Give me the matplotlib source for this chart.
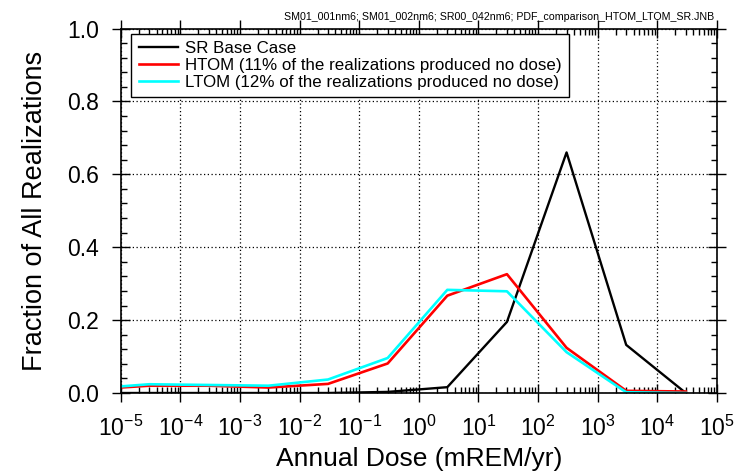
import numpy as np
import matplotlib
matplotlib.use('Agg')
from matplotlib import pyplot as plt
from matplotlib.ticker import MultipleLocator, LogLocator, NullFormatter

plt.rcParams['font.family'] = ['Liberation Sans', 'DejaVu Sans']
plt.rcParams['mathtext.fontset'] = 'custom'
plt.rcParams['mathtext.rm'] = 'Liberation Sans'
plt.rcParams['mathtext.it'] = 'Liberation Sans'

# dose bins (mREM/yr)
dose = [1e-5, 3e-5, 3e-4, 3e-3, 3e-2, 3e-1, 3, 30, 300, 3000, 30000]
sr_base = [0.0, 0.0, 0.0, 0.0, 0.0, 0.003, 0.016, 0.195, 0.660, 0.132, 0.0]
htom = [0.015, 0.020, 0.020, 0.015, 0.025, 0.081, 0.267, 0.326, 0.124, 0.006, 0.004]
ltom = [0.018, 0.024, 0.022, 0.020, 0.037, 0.096, 0.283, 0.279, 0.112, 0.002, 0.0]

labels = ['SR Base Case',
          'HTOM (11% of the realizations produced no dose)',
          'LTOM (12% of the realizations produced no dose)']
colors = ['black', '#ff0000', '#00ffff']
widths = [1.7, 1.9, 1.9]
xticks = [10.0 ** k for k in range(-5, 6)]
xticklabels = ['$10^{%d}$' % k for k in range(-5, 6)]
yticks = [0, 0.2, 0.4, 0.6, 0.8, 1.0]
yticklabels = ['0.0', '0.2', '0.4', '0.6', '0.8', '1.0']

W, H = 739, 475
fig = plt.figure(figsize=(W / 100, H / 100), dpi=100)
ax = fig.add_axes([120.7 / W, 1 - 393 / H, (717 - 120.7) / W, (393 - 28.5) / H])

for y, lab, c, lw in zip([sr_base, htom, ltom], labels, colors, widths):
    ax.plot(dose, y, color=c, lw=lw, label=lab)

ax.set_xscale('log')
ax.set_xlim(1e-5, 1e5)
ax.set_ylim(0, 1.0)
ax.set_xticks(xticks)
ax.set_xticklabels(xticklabels)
ax.xaxis.set_minor_locator(LogLocator(base=10, subs=np.arange(2, 10), numticks=20))
ax.xaxis.set_minor_formatter(NullFormatter())
ax.set_yticks(yticks)
ax.set_yticklabels(yticklabels)
ax.yaxis.set_minor_locator(MultipleLocator(0.04))

ax.tick_params(which='both', top=True, right=True, labelsize=16.5, width=1)
ax.tick_params(which='major', direction='inout', length=13)
ax.tick_params(which='minor', direction='in', length=4.5)
ax.tick_params(axis='x', which='major', pad=10)
ax.tick_params(axis='y', which='major', pad=9)
ax.grid(True, which='major', color='black', linestyle=(0, (1, 2)), linewidth=0.9)
for s in ax.spines.values():
    s.set_linewidth(1.2)

ax.set_xlabel('Annual Dose (mREM/yr)', fontsize=19, labelpad=4)
ax.set_ylabel('Fraction of All Realizations', fontsize=19.5, labelpad=14)

leg = ax.legend(loc='upper left', bbox_to_anchor=(131 / W, 1 - 33.5 / H),
                bbox_transform=fig.transFigure, borderaxespad=0,
                fontsize=12.2, frameon=True, fancybox=False, edgecolor='black',
                framealpha=1, handlelength=2.3, handletextpad=0.45,
                borderpad=0.45, labelspacing=0.1)
leg.get_frame().set_linewidth(1)

fig.text(714 / W, 1 - 17 / H, 'SM01_001nm6; SM01_002nm6; SR00_042nm6; PDF_comparison_HTOM_LTOM_SR.JNB',
         ha='right', va='center', fontsize=7.7)

fig.savefig('out.png', dpi=100)
